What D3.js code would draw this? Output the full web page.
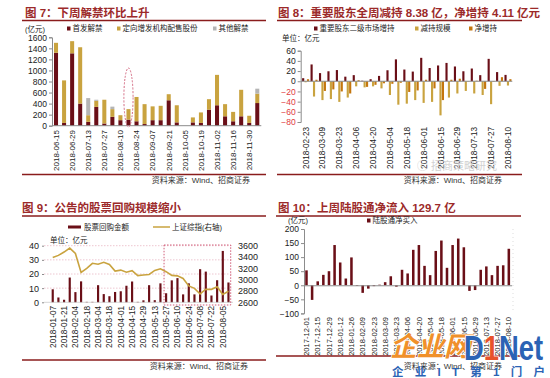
<!DOCTYPE html>
<html><head><meta charset="utf-8">
<script src="https://cdn.jsdelivr.net/npm/d3@7"></script>
<style>body{margin:0;background:#fff}svg{display:block}text{font-family:"Liberation Sans",Arial,"Noto Sans CJK SC",sans-serif}</style>
</head><body><svg id="c" width="550" height="378"></svg>
<script>
// ---------- DATA ----------
// Fig 7: unlocking (亿元), weekly
const c7Dates = ["2018-06-15","2018-06-22","2018-06-29","2018-07-06","2018-07-13","2018-07-20","2018-07-27","2018-08-03","2018-08-10","2018-08-17","2018-08-24","2018-08-31","2018-09-07","2018-09-14","2018-09-21","2018-09-28","2018-10-05","2018-10-12","2018-10-19","2018-10-26","2018-11-02","2018-11-09","2018-11-16","2018-11-23","2018-11-30","2018-12-07"];
const c7IPO = [1320,50,1310,400,70,340,40,160,100,110,80,30,100,100,460,60,0,60,50,290,370,170,80,170,50,410];
const c7Placement = [180,770,220,1020,120,110,430,140,90,190,440,360,250,260,110,310,0,90,190,190,550,220,170,480,130,170];
const c7Other = [0,0,0,0,310,20,0,45,0,0,0,0,0,0,0,0,0,0,0,0,0,0,0,0,0,90];
const c7Ticks = [0,200,400,600,800,1000,1200,1400,1600];
// Fig 8: shareholder increase / reduction / net (亿元)
const c8Dates = ["2018-02-23","2018-03-02","2018-03-09","2018-03-16","2018-03-23","2018-03-30","2018-04-06","2018-04-13","2018-04-20","2018-04-27","2018-05-04","2018-05-11","2018-05-18","2018-05-25","2018-06-01","2018-06-08","2018-06-15","2018-06-22","2018-06-29","2018-07-06","2018-07-13","2018-07-20","2018-07-27","2018-08-03","2018-08-10"];
const c8Inc = [6,33,16,19.6,22,9,12,1,4,10.5,21.6,43,23,19,46,26,31,36,29,19.6,25,12,44,18,12.49];
const c8Dec = [-2,-30,-37,-35,-40.5,-32,-10,-12,-10,-14,-27,-46,-44,-37,-42.5,-40.5,-67,-32,-24,-19,-24,-27,-45,-9,-8.38];
const c8Net = [4,3,-19,-16,-20,-24,2,-11,-7,-4,-5,-3,-21,-18,3,-14,-37,3,5,0.5,1,-15,-1,8,4.11];
const c8Ticks = [-80,-60,-40,-20,0,20,40,60];
// Fig 9: buyback amount (亿元) and SSE index
const c9Dates = ["2018-01-07","2018-01-14","2018-01-21","2018-01-28","2018-02-04","2018-02-11","2018-02-18","2018-02-25","2018-03-04","2018-03-11","2018-03-18","2018-03-25","2018-04-01","2018-04-08","2018-04-15","2018-04-22","2018-04-29","2018-05-06","2018-05-13","2018-05-20","2018-05-27","2018-06-03","2018-06-10","2018-06-17","2018-06-24","2018-07-01","2018-07-08","2018-07-15","2018-07-22","2018-07-29","2018-08-05","2018-08-12"];
const c9Buyback = [9.2,3.4,1.8,17.5,7.2,14.8,0.3,0.3,12.1,5.8,4.3,7.3,7.8,11.7,14.7,0.3,1.4,12.1,1.5,13.4,6.4,15.5,17.1,5.6,13.4,5.6,23.4,21.7,4.8,15.6,36.3,14];
const c9SSE = [3391,3429,3488,3558,3462,3129,3199,3289,3273,3307,3269,3152,3169,3131,3159,3071,3082,3091,3163,3193,3141,3075,3067,3022,2889,2847,2747,2831,2829,2873,2740,2795];
const c9LeftTicks = [0,10,20,30,40];
const c9RightTicks = [2600,2800,3000,3200,3400,3600];
// Fig 10: northbound net buying (亿元)
const c10Dates = ["2017-12-01","2017-12-08","2017-12-15","2017-12-22","2017-12-29","2018-01-05","2018-01-12","2018-01-19","2018-01-26","2018-02-02","2018-02-09","2018-02-16","2018-02-23","2018-03-02","2018-03-09","2018-03-16","2018-03-23","2018-03-30","2018-04-06","2018-04-13","2018-04-20","2018-04-27","2018-05-04","2018-05-11","2018-05-18","2018-05-25","2018-06-01","2018-06-08","2018-06-15","2018-06-22","2018-06-29","2018-07-06","2018-07-13","2018-07-20","2018-07-27","2018-08-03","2018-08-10"];
const c10Flow = [53,-52,14,37,50,143,81,24,99,-2,-27,-12,-3,2,11,32,-5,55,42,126,143,69,36,122,159,62,143,166,135,-20,-17,55,67,36,69,71,129.7];
const c10Ticks = [-100,-50,0,50,100,150,200];

// ---------- STYLE ----------
const DR="#6a0f17", GOLD="#c9a33f", GRAY="#b5b5b5", ORANGE="#c4760e", TITLE="#9c2a2a", RULE="#8a1c1c";
const CJK='"Noto Sans CJK SC","Liberation Sans",sans-serif';
const fmt = d3.format("d");
const svg = d3.select("#c");
svg.append("rect").attr("width",550).attr("height",378).attr("fill","#fff");

function title(x,y,txt,x1,x2,ly){
  svg.append("text").attr("x",x).attr("y",y).text(txt).attr("font-family",CJK)
    .attr("font-size",11.5).attr("font-weight","bold").attr("fill",TITLE);
  svg.append("line").attr("x1",x1).attr("x2",x2).attr("y1",ly).attr("y2",ly).attr("stroke",RULE).attr("stroke-width",1.3);
}
function rule(x1,x2,y){svg.append("line").attr("x1",x1).attr("x2",x2).attr("y1",y).attr("y2",y).attr("stroke",RULE).attr("stroke-width",1.5);}
function source(xr,y){svg.append("text").attr("x",xr).attr("y",y).attr("text-anchor","end").attr("font-family",CJK).attr("font-size",8).attr("fill","#333").text("资料来源：Wind、招商证券");}
function styleAxis(g,fs){g.select(".domain").attr("stroke","#8c8c8c");g.selectAll(".tick line").attr("stroke","#8c8c8c");g.selectAll("text").attr("font-size",fs||8.5).attr("fill","#222");}
function dateLabels(x,dates,y,fs,every){
  svg.append("g").selectAll("text").data(dates.filter((d,i)=>i%every===0)).join("text")
    .attr("transform",d=>`translate(${x(d)+x.bandwidth()/2},${y}) rotate(-90)`)
    .attr("text-anchor","end").attr("dy","0.35em").attr("font-size",fs).attr("fill","#222").text(d=>d);
}
function legRect(x,y,c,txt,fs){
  svg.append("rect").attr("x",x).attr("y",y-3.5).attr("width",3.5).attr("height",4).attr("fill",c);
  svg.append("text").attr("x",x+5.5).attr("y",y+1).attr("font-family",CJK).attr("font-size",fs||7.5).attr("fill","#222").text(txt);
}

// ---------- FIG 7 ----------
title(25,17,"图 7：下周解禁环比上升",22,266,20.5);
svg.append("text").attr("x",25).attr("y",32).attr("font-family",CJK).attr("font-size",7.5).attr("fill","#222").text("(亿元)");
legRect(67,30,DR,"首发解禁");
legRect(117,30,GOLD,"定向增发机构配售股份");
legRect(213,30,GRAY,"其他解禁");
{
  const x = d3.scaleBand().domain(c7Dates).range([52,261.3]).paddingInner(0.5).paddingOuter(0.25);
  const y = d3.scaleLinear().domain([0,1600]).range([125.7,37.3]);
  const rows = c7Dates.map((d,i)=>({d,ipo:c7IPO[i],pl:c7Placement[i],ot:c7Other[i]}));
  const st = d3.stack().keys(["ipo","pl","ot"])(rows);
  const col = {ipo:DR,pl:GOLD,ot:GRAY};
  svg.append("g").selectAll("g").data(st).join("g").attr("fill",s=>col[s.key])
    .selectAll("rect").data(s=>s).join("rect")
    .attr("x",p=>x(p.data.d)).attr("width",x.bandwidth())
    .attr("y",p=>y(p[1])).attr("height",p=>y(p[0])-y(p[1]));
  const ga = svg.append("g").attr("transform","translate(52,0)").call(d3.axisLeft(y).tickValues(c7Ticks).tickFormat(fmt).tickSize(3).tickPadding(2));
  styleAxis(ga);
  svg.append("line").attr("x1",52).attr("x2",261.3).attr("y1",y(0)).attr("y2",y(0)).attr("stroke","#8c8c8c");
  dateLabels(x,c7Dates,130,8,2);
  const d9 = c7Dates[9];
  svg.append("ellipse").attr("cx",x(d9)+x.bandwidth()/2).attr("cy",97.5).attr("rx",4.6).attr("ry",29.5)
    .attr("fill","none").attr("stroke","#d46a82").attr("stroke-width",1).attr("stroke-dasharray","2,1.5");
}
rule(22,266,174.5);
source(250,183);

// ---------- FIG 8 ----------
title(278,17,"图 8：重要股东全周减持 8.38 亿，净增持 4.11 亿元",277,522,20.5);
legRect(314,30,DR,"重要股东二级市场增持");
legRect(415,30,GOLD,"减持规模");
legRect(469,30,ORANGE,"净增持");
svg.append("text").attr("x",282).attr("y",41).attr("font-family",CJK).attr("font-size",7.5).attr("fill","#222").text("单位：亿元");
{
  const x = d3.scaleBand().domain(c8Dates).range([301.5,512.3]).padding(0);
  const keys = ["inc","dec","net"];
  const xi = d3.scaleBand().domain(keys).range([0.6,7.6]).paddingInner(0.12);
  const y = d3.scaleLinear().domain([-80,60]).range([122,50.7]);
  const rows = c8Dates.map((d,i)=>({d,inc:c8Inc[i],dec:c8Dec[i],net:c8Net[i]}));
  const col = {inc:DR,dec:GOLD,net:ORANGE};
  svg.append("g").selectAll("g").data(rows).join("g").attr("transform",r=>`translate(${x(r.d)},0)`)
    .selectAll("rect").data(r=>keys.map(k=>({k,v:r[k]}))).join("rect")
    .attr("x",o=>xi(o.k)).attr("width",xi.bandwidth()).attr("fill",o=>col[o.k])
    .attr("y",o=>y(Math.max(0,o.v))).attr("height",o=>Math.abs(y(o.v)-y(0)));
  const ga = svg.append("g").attr("transform","translate(300.7,0)").call(d3.axisLeft(y).tickValues(c8Ticks).tickFormat(fmt).tickSize(3).tickPadding(2));
  styleAxis(ga);
  ga.selectAll("text").attr("fill",d=>d<0?"#e03a3e":"#222");
  svg.append("line").attr("x1",300.7).attr("x2",512.3).attr("y1",y(0)).attr("y2",y(0)).attr("stroke","#8c8c8c");
  dateLabels(x,c8Dates,127,8.2,2);
}
svg.append("text").attr("x",417).attr("y",170).attr("font-family",CJK).attr("font-size",11).attr("fill","#c8c8c8").attr("opacity",0.8).text("ⓒ 招商策略研究");
rule(277,522,174.5);
source(502,183);

// ---------- FIG 9 ----------
title(22,212,"图 9：公告的股票回购规模缩小",22,266,216);
svg.append("rect").attr("x",68).attr("y",225.5).attr("width",13).attr("height",3).attr("fill",DR);
svg.append("text").attr("x",84).attr("y",230).attr("font-family",CJK).attr("font-size",7.5).attr("fill","#222").text("股票回购金额");
svg.append("line").attr("x1",153).attr("x2",170).attr("y1",227).attr("y2",227).attr("stroke",GOLD).attr("stroke-width",1.5);
svg.append("text").attr("x",172).attr("y",230).attr("font-family",CJK).attr("font-size",7.5).attr("fill","#222").text("上证综指(右轴)");
svg.append("text").attr("x",50).attr("y",243).attr("font-family",CJK).attr("font-size",7.5).attr("fill","#222").text("单位：亿元");
{
  const x = d3.scaleBand().domain(c9Dates).range([49.9,231.3]).paddingInner(0.62).paddingOuter(0.31);
  const y = d3.scaleLinear().domain([0,40]).range([302.3,245.7]);
  const yr = d3.scaleLinear().domain([2600,3600]).range([302.3,245.7]);
  svg.append("g").selectAll("line").data(c9LeftTicks.filter(t=>t>0)).join("line")
    .attr("x1",44).attr("x2",233).attr("y1",d=>y(d)).attr("y2",d=>y(d))
    .attr("stroke","#e9b7c4").attr("stroke-dasharray","1.5,1.5").attr("stroke-width",0.8);
  svg.append("g").attr("fill",DR).selectAll("rect").data(c9Dates).join("rect")
    .attr("x",d=>x(d)).attr("width",x.bandwidth())
    .attr("y",(d,i)=>y(c9Buyback[i])).attr("height",(d,i)=>y(0)-y(c9Buyback[i]));
  const line = d3.line().x(d=>x(d.d)+x.bandwidth()/2).y(d=>yr(d.v));
  svg.append("path").datum(c9Dates.map((d,i)=>({d,v:c9SSE[i]}))).attr("d",line)
    .attr("fill","none").attr("stroke",GOLD).attr("stroke-width",1.6);
  const gl = svg.append("g").attr("transform","translate(44,0)").call(d3.axisLeft(y).tickValues(c9LeftTicks).tickFormat(fmt).tickSize(2).tickPadding(3));
  styleAxis(gl,9); gl.select(".domain").attr("stroke","none");
  const gr = svg.append("g").attr("transform","translate(234,0)").call(d3.axisRight(yr).tickValues(c9RightTicks).tickFormat(fmt).tickSize(0).tickPadding(4));
  styleAxis(gr,9); gr.select(".domain").attr("stroke","none");
  svg.append("line").attr("x1",44).attr("x2",233).attr("y1",y(0)).attr("y2",y(0)).attr("stroke","#bbb").attr("stroke-width",0.6);
  dateLabels(x,c9Dates,306,8.2,2);
  const bx = x(c9Dates[20])-1;
  svg.append("rect").attr("x",bx).attr("y",245).attr("width",230.7-bx).attr("height",60)
    .attr("fill","none").attr("stroke","#d05c78").attr("stroke-width",1).attr("stroke-dasharray","1.5,1.5");
}
rule(22,266,360);
source(248,369);

// ---------- FIG 10 ----------
title(278,212,"图 10：上周陆股通净流入 129.7 亿",276,521,216);
svg.append("text").attr("x",288).attr("y",223).attr("font-family",CJK).attr("font-size",7.5).attr("fill","#222").text("(亿元)");
legRect(367,222,DR,"陆股通净买入");
{
  const x = d3.scaleBand().domain(c10Dates).range([303.7,511.6]).paddingInner(0.55).paddingOuter(0.27);
  const y = d3.scaleLinear().domain([-100,200]).range([313.4,229]);
  svg.append("line").attr("x1",513).attr("x2",513).attr("y1",229).attr("y2",313).attr("stroke","#ddd").attr("stroke-dasharray","1,3");
  svg.append("g").attr("fill",DR).selectAll("rect").data(c10Dates).join("rect")
    .attr("x",d=>x(d)).attr("width",x.bandwidth())
    .attr("y",(d,i)=>y(Math.max(0,c10Flow[i]))).attr("height",(d,i)=>Math.abs(y(c10Flow[i])-y(0)));
  const ga = svg.append("g").attr("transform","translate(304,0)").call(d3.axisLeft(y).tickValues(c10Ticks).tickFormat(fmt).tickSize(3).tickPadding(2));
  styleAxis(ga);
  const gx = svg.append("g").attr("transform",`translate(0,${y(0)})`).call(d3.axisBottom(x).tickValues([]).tickSize(0));
  gx.select(".domain").attr("stroke","#8c8c8c");
  dateLabels(x,c10Dates,317,7.6,2);
}
rule(276,521,356);
source(502,369);

// ---------- watermark logo ----------
svg.append("text").attr("x",390).attr("y",356).attr("font-family",CJK).attr("font-size",27).attr("font-weight","bold")
  .attr("fill","#f0902a").attr("stroke","#fff").attr("stroke-width",1.5).attr("paint-order","stroke").attr("font-style","italic").text("企业网");
const lg = svg.append("text").attr("transform","translate(464,360) scale(0.76,1)").attr("font-size",36).attr("font-weight","bold")
  .attr("stroke","#fff").attr("stroke-width",1.5).attr("paint-order","stroke");
lg.append("tspan").attr("fill","#2b63b5").text("D");
lg.append("tspan").attr("fill","#e8522a").text("1");
lg.append("tspan").attr("fill","#2b63b5").text("Net");
svg.append("text").attr("x",392).attr("y",376).attr("font-family",CJK).attr("font-size",11.5).attr("font-weight","bold")
  .attr("fill","#2b63b5").attr("textLength",153).attr("lengthAdjust","spacing").text("企业IT第1门户");
</script></body></html>
